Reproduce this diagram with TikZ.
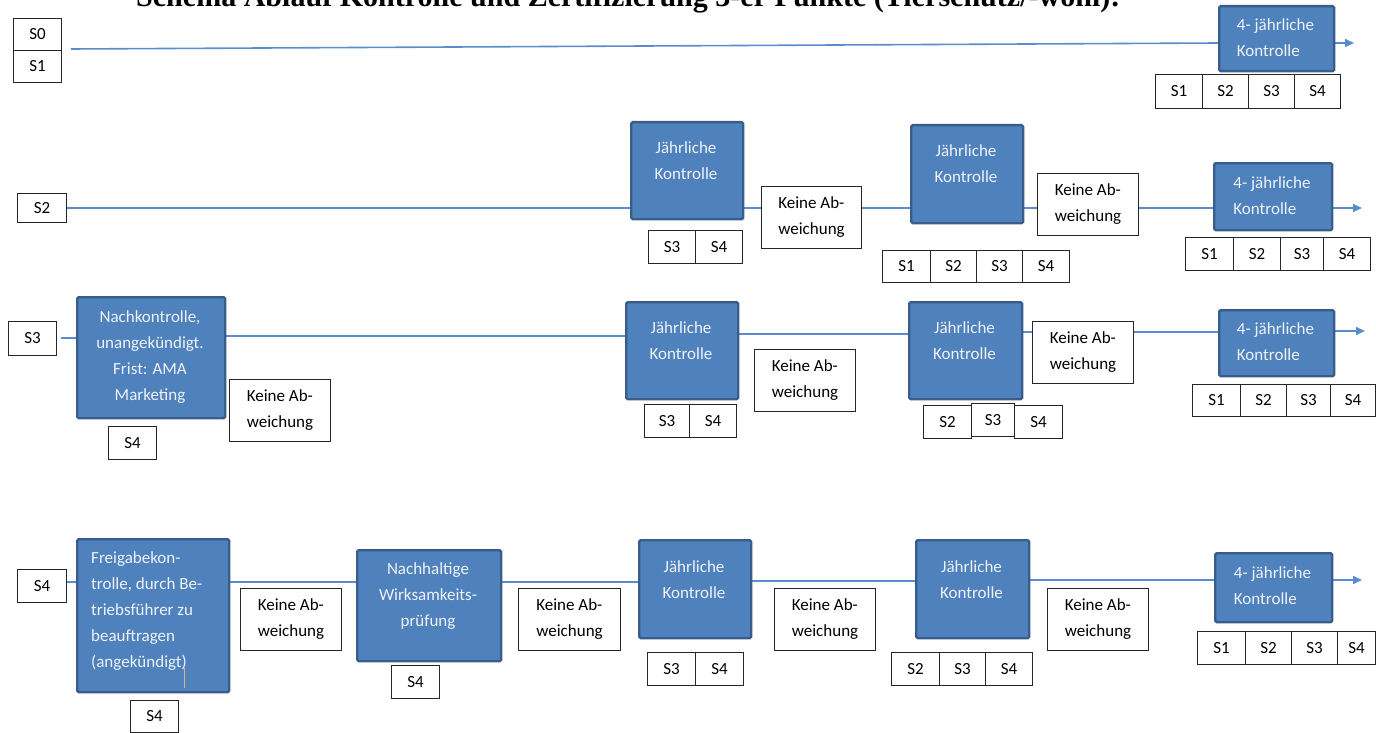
\documentclass[tikz,border=0pt]{standalone}
\usepackage{fontspec}
\setmainfont{Carlito}
\newfontfamily\titlefont{Liberation Serif}
\usetikzlibrary{arrows.meta}
\pgfdeclarelayer{bg}
\pgfsetlayers{bg,main}
\definecolor{boxfill}{RGB}{79,129,189}
\definecolor{boxline}{RGB}{56,93,138}
\definecolor{flowcol}{RGB}{91,141,206}
\definecolor{boxtext}{RGB}{238,243,250}
\newcommand\mybox[7]{\node[#1, minimum width={#5-#3}, minimum height={#6-#4}] (#2) at (#3,#4) {#7};}
\tikzset{
  bigbox/.style={draw=boxline, line width=2.4pt, fill=boxfill, rounded corners=1.5pt, inner sep=0pt, anchor=north west},
  btxt/.style={text=boxtext, font=\fontsize{17}{26}\selectfont, inner sep=0pt, align=center},
  sbox/.style={draw=black!85, line width=1pt, fill=white, inner sep=0pt, anchor=north west, font=\fontsize{17}{26}\selectfont},
  kbox/.style={sbox, align=left},
  flow/.style={draw=flowcol, line width=1.6pt},
  tip/.style={-{Triangle[length=9pt,width=8pt]}}
}
\begin{document}
\begin{tikzpicture}[x=1pt,y=-1pt]
\useasboundingbox (0,0) rectangle (1376,733);
\node[anchor=base west, inner sep=0pt] (title) at (136,7) {\resizebox{984pt}{!}{\titlefont\bfseries Schema Ablauf Kontrolle und Zertifizierung 3-er Punkte (Tierschutz/-wohl):}};

% ---------- Row 0 ----------
\mybox{sbox}{r0s0}{13}{18}{61}{50}{S0}
\mybox{sbox}{r0s1}{13}{50}{61}{82}{S1}
\mybox{bigbox}{r0q}{1218}{5}{1333}{70}{}
\node[btxt, align=left] (r0qt) at (1275.5,37.5) {4- jährliche\\Kontrolle};
\mybox{sbox}{r0a}{1155}{74}{1202}{108}{S1}
\mybox{sbox}{r0b}{1202}{74}{1248}{108}{S2}
\mybox{sbox}{r0c}{1248}{74}{1294}{108}{S3}
\mybox{sbox}{r0d}{1294}{74}{1340}{108}{S4}
\coordinate (r0y) at (0,43);
\coordinate (r0e) at (1354,43);

% ---------- Row 1 ----------
\mybox{sbox}{r1s}{17}{193}{66}{222}{S2}
\mybox{bigbox}{r1j1}{630}{121}{742}{218}{}
\node[btxt] (r1j1t) at (686,161) {Jährliche\\Kontrolle};
\mybox{sbox}{r1j1a}{648}{230}{695}{263}{S3}
\mybox{sbox}{r1j1b}{695}{230}{742}{263}{S4}
\mybox{kbox}{r1k1}{761}{186}{861}{248}{Keine Ab-\\weichung}
\mybox{bigbox}{r1j2}{910}{124}{1022}{222}{}
\node[btxt] (r1j2t) at (966,163.5) {Jährliche\\Kontrolle};
\mybox{sbox}{r1j2a}{882}{250}{930}{282}{S1}
\mybox{sbox}{r1j2b}{930}{250}{976}{282}{S2}
\mybox{sbox}{r1j2c}{976}{250}{1022}{282}{S3}
\mybox{sbox}{r1j2d}{1022}{250}{1069}{282}{S4}
\mybox{kbox}{r1k2}{1037}{173}{1138}{235}{Keine Ab-\\weichung}
\mybox{bigbox}{r1q}{1213}{162}{1331}{229}{}
\node[btxt, align=left] (r1qt) at (1272,195.5) {4- jährliche\\Kontrolle};
\mybox{sbox}{r1qa}{1185}{237}{1233}{270}{S1}
\mybox{sbox}{r1qb}{1233}{237}{1280}{270}{S2}
\mybox{sbox}{r1qc}{1280}{237}{1323}{270}{S3}
\mybox{sbox}{r1qd}{1323}{237}{1370}{270}{S4}
\coordinate (r1y) at (0,208);
\coordinate (r1e) at (1362,208);

% ---------- Row 2 ----------
\mybox{sbox}{r2s}{8}{321}{56}{355}{S3}
\mybox{bigbox}{r2n}{76}{296}{224}{417}{}
\node[btxt] (r2nt) at (150,357) {Nachkontrolle,\\unangekündigt.\\Frist: AMA\\Marketing};
\mybox{sbox}{r2n4}{108}{426}{156}{459}{S4}
\mybox{kbox}{r2k0}{229}{379}{330}{441}{Keine Ab-\\weichung}
\mybox{bigbox}{r2j1}{625}{301}{737}{398}{}
\node[btxt] (r2j1t) at (681,341) {Jährliche\\Kontrolle};
\mybox{sbox}{r2j1a}{644}{404}{689}{437}{S3}
\mybox{sbox}{r2j1b}{689}{404}{736}{437}{S4}
\mybox{kbox}{r2k1}{754}{349}{855}{411}{Keine Ab-\\weichung}
\mybox{bigbox}{r2j2}{908}{301}{1021}{398}{}
\node[btxt] (r2j2t) at (964.5,341) {Jährliche\\Kontrolle};
\mybox{sbox}{r2j2a}{923}{405}{971}{438}{S2}
\mybox{sbox}{r2j2c}{1014}{405}{1062}{438}{S4}
\mybox{sbox}{r2j2b}{971}{403}{1014}{436}{S3}
\mybox{kbox}{r2k2}{1032}{321}{1133}{383}{Keine Ab-\\weichung}
\mybox{bigbox}{r2q}{1218}{309}{1333}{375}{}
\node[btxt, align=left] (r2qt) at (1275.5,342) {4- jährliche\\Kontrolle};
\mybox{sbox}{r2qa}{1192}{384}{1240}{416}{S1}
\mybox{sbox}{r2qb}{1240}{384}{1286}{416}{S2}
\mybox{sbox}{r2qc}{1286}{384}{1330}{416}{S3}
\mybox{sbox}{r2qd}{1330}{384}{1375}{416}{S4}
\coordinate (r2ya) at (0,338);
\coordinate (r2yb) at (0,336);
\coordinate (r2yc) at (0,334);
\coordinate (r2yd) at (0,332);
\coordinate (r2e) at (1365,331);

% ---------- Row 3 ----------
\mybox{sbox}{r3s}{17}{569}{66}{602}{S4}
\mybox{bigbox}{r3f}{76}{538}{228}{691}{}
\node[btxt, align=left, anchor=west] (r3ft) at (91,611.5) {Freigabekon-\\trolle, durch Be-\\triebsführer zu\\beauftragen\\(angekündigt)};
\draw[draw=brown!60!white, line width=0.8pt] (184,668) -- (184,688);
\mybox{sbox}{r3f4}{130}{700}{178}{732}{S4}
\mybox{kbox}{r3k0}{240}{588}{341}{650}{Keine Ab-\\weichung}
\mybox{bigbox}{r3h}{356}{549}{500}{660}{}
\node[btxt] (r3ht) at (428,596) {Nachhaltige\\Wirksamkeits-\\prüfung};
\mybox{sbox}{r3h4}{391}{665}{439}{698}{S4}
\mybox{kbox}{r3k1}{518}{588}{620}{650}{Keine Ab-\\weichung}
\mybox{bigbox}{r3j1}{638}{539}{750}{637}{}
\node[btxt] (r3j1t) at (694,579.5) {Jährliche\\Kontrolle};
\mybox{sbox}{r3j1a}{647}{652}{695}{685}{S3}
\mybox{sbox}{r3j1b}{695}{652}{743}{685}{S4}
\mybox{kbox}{r3k2}{774}{588}{875}{650}{Keine Ab-\\weichung}
\mybox{bigbox}{r3j2}{915}{539}{1028}{637}{}
\node[btxt] (r3j2t) at (971.5,579.5) {Jährliche\\Kontrolle};
\mybox{sbox}{r3j2a}{891}{652}{939}{685}{S2}
\mybox{sbox}{r3j2b}{939}{652}{985}{685}{S3}
\mybox{sbox}{r3j2c}{985}{652}{1032}{685}{S4}
\mybox{kbox}{r3k3}{1047}{588}{1148}{650}{Keine Ab-\\weichung}
\mybox{bigbox}{r3q}{1214}{552}{1331}{621}{}
\node[btxt, align=left] (r3qt) at (1272.5,586) {4- jährliche\\Kontrolle};
\mybox{sbox}{r3qa}{1197}{631}{1245}{664}{S1}
\mybox{sbox}{r3qb}{1245}{631}{1291}{664}{S2}
\mybox{sbox}{r3qc}{1291}{631}{1337}{664}{S3}
\mybox{sbox}{r3qd}{1337}{631}{1375}{664}{S4}
\coordinate (r3ya) at (0,582);
\coordinate (r3yb) at (0,581);
\coordinate (r3yc) at (0,580);
\coordinate (r3e) at (1362,580);

% ---------- connectors ----------
\begin{pgfonlayer}{bg}
\draw[flow] ([xshift=9pt,yshift=2pt]r0s0.south east) -- (r0q.west |- r0y);
\draw[flow, tip] (r0q.east |- r0e) -- (r0e);

\draw[flow] (r1s.east |- r1y) -- (r1j1.west |- r1y);
\draw[flow] (r1j1.east |- r1y) -- (r1j2.west |- r1y);
\draw[flow] (r1j2.east |- r1y) -- (r1q.west |- r1y);
\draw[flow, tip] (r1q.east |- r1e) -- (r1e);

\draw[flow] ([xshift=4pt]r2s.east |- r2ya) -- (r2n.west |- r2ya);
\draw[flow] (r2n.east |- r2yb) -- (r2j1.west |- r2yb);
\draw[flow] (r2j1.east |- r2yc) -- (r2j2.west |- r2yc);
\draw[flow] (r2j2.east |- r2yd) -- (r2q.west |- r2yd);
\draw[flow, tip] (r2q.east |- r2e) -- (r2e);

\draw[flow] (r3s.east |- r3ya) -- (r3f.west |- r3ya);
\draw[flow] (r3f.east |- r3ya) -- (r3h.west |- r3ya);
\draw[flow] (r3h.east |- r3ya) -- (r3j1.west |- r3ya);
\draw[flow] (r3j1.east |- r3yb) -- (r3j2.west |- r3yb);
\draw[flow] (r3j2.east |- r3yc) -- (r3q.west |- r3yc);
\draw[flow, tip] (r3q.east |- r3e) -- (r3e);
\end{pgfonlayer}
\end{tikzpicture}
\end{document}
